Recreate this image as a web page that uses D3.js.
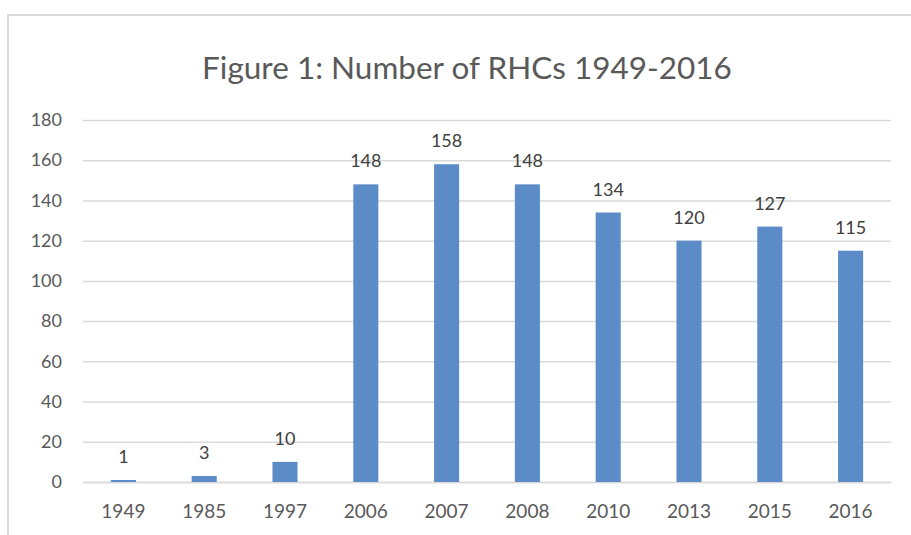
<!DOCTYPE html>
<html><head><meta charset="utf-8">
<script src="https://d3js.org/d3.v7.min.js"></script>
<style>body{margin:0;background:#fff}svg{display:block}</style>
</head><body>
<script>
const categories = ["1949","1985","1997","2006","2007","2008","2010","2013","2015","2016"];
const values = [1,3,10,148,158,148,134,120,127,115];
const yTicks = [0,20,40,60,80,100,120,140,160,180];
const title = "Figure 1: Number of RHCs 1949-2016";

const W=911,H=535;
const m={left:83,right:20,top:120,bottom:53};
const svg=d3.select("body").append("svg").attr("width",W).attr("height",H);
const font="Lato, 'Open Sans', sans-serif";

// frame
svg.append("path").attr("d",`M8,${H} L8,15 L${W},15`).attr("fill","none").attr("stroke","#d9d9d9").attr("stroke-width",2);

const x=d3.scaleBand().domain(categories).range([m.left,W-m.right]).paddingInner(0.69).paddingOuter(0.345);
const y=d3.scaleLinear().domain([0,180]).range([H-m.bottom,m.top]);

const ya=svg.append("g").attr("transform",`translate(${m.left},0)`)
 .call(d3.axisLeft(y).tickValues(yTicks).tickSize(-(W-m.right-m.left)).tickPadding(21));
ya.select(".domain").remove();
ya.selectAll(".tick line").attr("stroke","#d9d9d9").attr("stroke-width",1.5);
ya.selectAll(".tick text").attr("fill","#595959").style("font-family",font).style("font-size","18px");

const xa=svg.append("g").attr("transform",`translate(0,${H-m.bottom})`)
 .call(d3.axisBottom(x).tickSize(0).tickPadding(23));
xa.select(".domain").attr("stroke","#d9d9d9").attr("stroke-width",1.5);
xa.selectAll(".tick text").attr("fill","#595959").style("font-family",font).style("font-size","19px");

svg.append("g").selectAll("rect").data(values).join("rect")
 .attr("x",(d,i)=>x(categories[i])).attr("width",x.bandwidth())
 .attr("y",d=>y(d)).attr("height",d=>y(0)-y(d)).attr("fill","#5b8cc8");

svg.append("g").selectAll("text").data(values).join("text")
 .attr("x",(d,i)=>x(categories[i])+x.bandwidth()/2).attr("y",d=>y(d)-17)
 .attr("text-anchor","middle").attr("fill","#404040")
 .style("font-family",font).style("font-size","18px").text(d=>d);

svg.append("text").attr("x",467).attr("y",79).attr("text-anchor","middle")
 .attr("fill","#595959").style("font-family",font).style("font-size","31.5px").text(title);
</script>
</body></html>
